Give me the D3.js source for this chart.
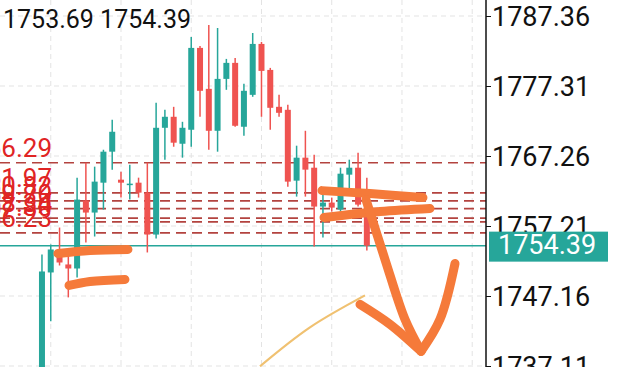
<!DOCTYPE html>
<html>
<head>
<meta charset="utf-8">
<script src="https://cdn.jsdelivr.net/npm/d3@7"></script>
<style>
  html, body { margin: 0; padding: 0; background: #fff; overflow: hidden; }
  svg { display: block; font-family: Roboto, "Noto Sans", sans-serif; }
</style>
</head>
<body>
<script>
// candles, left to right
const opens  = [1732.40,1750.54,1752.98,1751.69,1751.11,1760.86,1759.14,1763.43,1767.88,1763.86,
                1763.15,1763.43,1762.00,1755.98,1771.31,1772.89,1769.02,1771.03,1782.78,1776.90,
                1770.88,1778.33,1780.63,1771.46,1776.04,1783.35,1779.62,1774.32,1773.89,1763.72,
                1767.02,1765.58,1760.00,1760.57,1759.57,1764.58,1765.58,1760.28];
const highs  = [1753.12,1754.55,1756.99,1753.12,1764.15,1766.30,1765.73,1768.16,1772.46,1765.01,
                1766.01,1764.15,1766.30,1774.90,1773.89,1774.32,1772.17,1784.35,1783.06,1786.07,
                1785.64,1781.20,1781.34,1777.62,1784.92,1783.64,1779.91,1776.04,1774.61,1768.74,
                1770.88,1767.45,1761.72,1761.29,1765.58,1766.73,1767.73,1764.15];
const lows   = [1730.00,1743.52,1751.54,1746.96,1749.82,1754.84,1755.70,1759.57,1765.30,1761.29,
                1761.00,1761.29,1753.41,1755.41,1766.73,1768.59,1767.02,1768.59,1772.89,1768.16,
                1767.88,1776.76,1771.46,1770.17,1775.76,1772.89,1771.03,1772.89,1762.86,1761.43,
                1761.43,1754.27,1755.55,1759.28,1759.28,1762.00,1760.00,1753.69];
const closes = [1750.68,1753.84,1751.97,1751.11,1761.00,1759.14,1763.58,1767.88,1770.74,1763.43,
                1763.29,1762.00,1755.98,1771.31,1772.89,1769.17,1771.31,1782.78,1776.62,1770.88,
                1778.33,1780.63,1771.60,1776.62,1783.35,1779.48,1774.18,1773.46,1763.58,1767.02,
                1765.30,1760.00,1760.57,1759.85,1764.72,1765.58,1760.28,1754.39];

const tickValues = [1787.36, 1777.31, 1767.26, 1757.21, 1747.16, 1737.11];
const gridIndex = [1, 9, 17, 25, 33, 41, 49];
const levelValues = [1766.29, 1761.97, 1760.82, 1759.70, 1758.34, 1757.80, 1756.23];
const lastPrice = 1754.39;
const headerText = "1753.69 1754.39";

// hand drawn marks on the screenshot, as [candle index, price]
const strokes = [
  [[1.82,1753.26],[5.47,1753.69],[9.79,1753.84]],
  [[3.08,1748.68],[5.47,1749.25],[9.45,1749.54]],
  [[31.89,1762.29],[37.36,1761.86],[43.39,1761.29]],
  [[32.12,1758.42],[38.50,1759.28],[44.19,1759.71]],
  [[36.90,1761.00],[39.07,1752.40],[41.34,1743.81],[43.17,1739.22]],
  [[36.22,1745.96],[39.64,1743.09],[43.17,1739.22]],
  [[43.17,1739.22],[45.33,1743.81],[47.04,1751.83]]
];
const thinCurve = [[24.83,1737.07],[30.52,1742.66],[36.79,1747.25]];

const W = 625, H = 367, axisX = 486;
const up = "#26a69a", down = "#ef5350";

const svg = d3.select("body").append("svg").attr("width", W).attr("height", H);

const x = d3.scaleLinear().domain([-4.78, 50.57]).range([0, axisX]);
const y = d3.scaleLinear().domain([1737.11, 1787.36]).range([366, 16]);

// grid
svg.append("g").selectAll("line").data(gridIndex).enter().append("line")
  .attr("x1", d => x(d)).attr("x2", d => x(d))
  .attr("y1", 0).attr("y2", H)
  .style("stroke", "#e3e3e3").style("stroke-dasharray", "5,4");
svg.append("g").selectAll("line").data(tickValues).enter().append("line")
  .attr("x1", 0).attr("x2", axisX)
  .attr("y1", d => y(d)).attr("y2", d => y(d))
  .style("stroke", "#e3e3e3").style("stroke-dasharray", "5,4");

// level lines
svg.append("g").selectAll("line").data(levelValues).enter().append("line")
  .attr("x1", 0).attr("x2", axisX)
  .attr("y1", d => y(d)).attr("y2", d => y(d))
  .style("stroke", "#b3433f").style("stroke-width", 1.7)
  .style("stroke-dasharray", "10,6");

// last price line
svg.append("line")
  .attr("x1", 0).attr("x2", axisX)
  .attr("y1", y(lastPrice)).attr("y2", y(lastPrice))
  .style("stroke", up).style("stroke-width", 1.5);

// candles
const candles = opens.map((o, i) => ({ i, o, h: highs[i], l: lows[i], c: closes[i] }));
const cg = svg.append("g").selectAll("g").data(candles).enter().append("g");
cg.append("line")
  .attr("x1", d => x(d.i)).attr("x2", d => x(d.i))
  .attr("y1", d => y(d.h)).attr("y2", d => y(d.l))
  .style("stroke", d => d.c >= d.o ? up : down).style("stroke-width", 1.5);
cg.append("rect")
  .attr("x", d => x(d.i) - 3)
  .attr("y", d => y(Math.max(d.o, d.c)))
  .attr("width", 6)
  .attr("height", d => Math.max(1.5, Math.abs(y(d.o) - y(d.c))))
  .style("fill", d => d.c >= d.o ? up : down);

// level labels (cut off at the left edge, like the screenshot)
svg.append("g").selectAll("text").data(levelValues).enter().append("text")
  .attr("x", 52).attr("y", d => y(d) - 6)
  .style("text-anchor", "end")
  .style("font-size", "26px")
  .style("fill", "#e02424")
  .text(d => d.toFixed(2));

// hand drawn strokes
const pen = d3.line().x(d => x(d[0])).y(d => y(d[1])).curve(d3.curveCatmullRom);
svg.append("g").selectAll("path").data(strokes).enter().append("path")
  .attr("d", pen)
  .style("fill", "none").style("stroke", "#f57a3a")
  .style("stroke-width", 9).style("stroke-linecap", "round").style("stroke-linejoin", "round");
svg.append("path").attr("d", pen(thinCurve))
  .style("fill", "none").style("stroke", "#f0c171").style("stroke-width", 2.2);

// header
svg.append("text").attr("x", 3).attr("y", 28)
  .style("font-size", "25px").style("fill", "#111").text(headerText);

// right axis
const axis = svg.append("g").attr("transform", `translate(${axisX},0)`)
  .call(d3.axisRight(y).tickValues(tickValues).tickSize(5).tickPadding(1).tickFormat(d3.format(".2f")));
axis.select(".domain").remove();
axis.selectAll("line").style("stroke", "#111");
axis.selectAll("text").style("font-size", "27px").style("fill", "#111")
  .style("font-family", "Roboto, sans-serif").attr("dy", "0.36em");
svg.append("line").attr("x1", axisX).attr("x2", axisX).attr("y1", 0).attr("y2", H)
  .style("stroke", "#111").style("stroke-width", 1.5);

// last price tag
svg.append("rect").attr("x", 489).attr("y", y(lastPrice) - 14)
  .attr("width", 119).attr("height", 30).style("fill", up);
svg.append("text").attr("x", 498).attr("y", y(lastPrice) + 1)
  .style("font-size", "27px").style("fill", "#fff")
  .style("dominant-baseline", "middle").text(lastPrice.toFixed(2));
</script>
</body>
</html>
